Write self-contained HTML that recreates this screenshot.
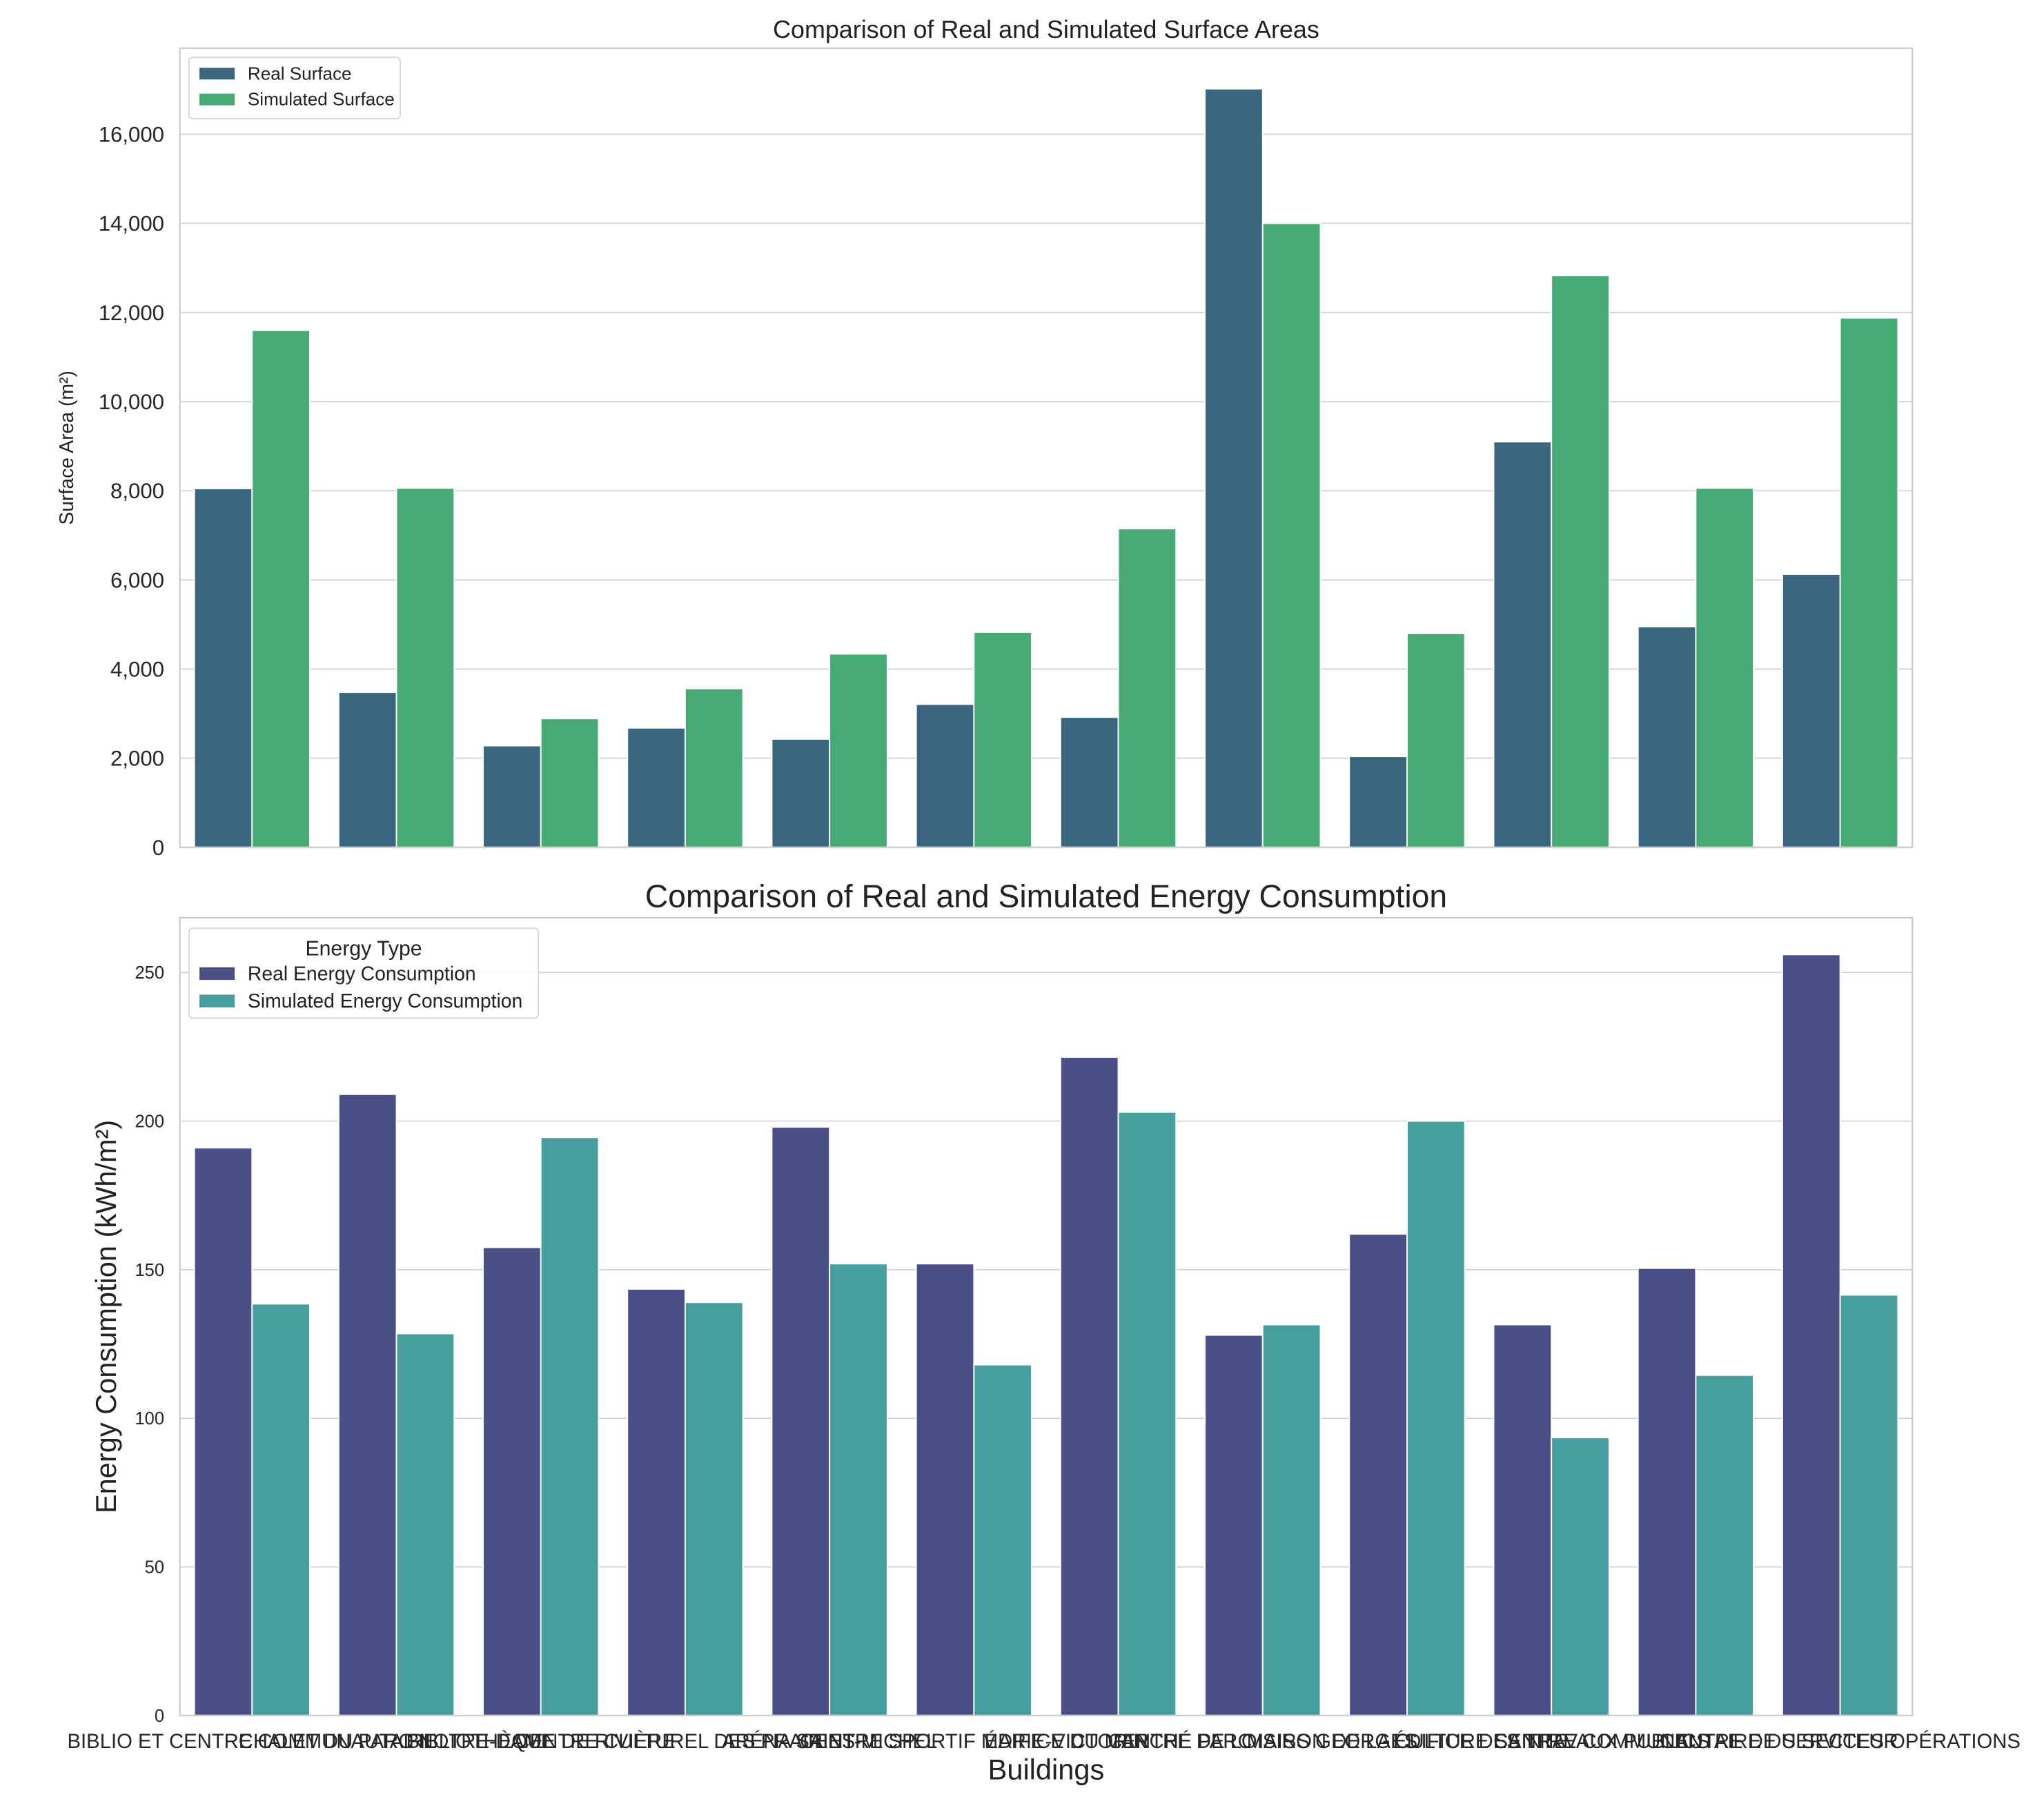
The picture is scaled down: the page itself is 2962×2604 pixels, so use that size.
<!DOCTYPE html>
<html><head><meta charset="utf-8"><style>
html,body{margin:0;padding:0;background:#fff;}
svg{display:block;font-family:"Liberation Sans","DejaVu Sans",sans-serif;}
</style></head><body>
<svg id="chart" width="2962" height="2604" viewBox="0 0 1568 1378.5" preserveAspectRatio="none" xmlns="http://www.w3.org/2000/svg">
<rect width="1568" height="1378.5" fill="#fff"/>
</svg>
<script>
const buildings = ["BIBLIO ET CENTRE COMMUNAUTAIRE","CHALET DU PARC NOTRE-DAME","BIBLIOTHÈQUE DE RIVIÈRE","CENTRE CULTUREL DES PRAIRIES","ARÉNA SAINT-MICHEL","CENTRE SPORTIF MARIE-VICTORIN","ÉDIFICE DU MARCHÉ PARC","CENTRE DE LOISIRS GEORGES","MAISON DE LA CULTURE SAINTE","ÉDIFICE DES TRAVAUX PUBLICS","CENTRE COMMUNAUTAIRE DU SECTEUR","CENTRE DE SERVICES OPÉRATIONS"];
const realSurface = [8050,3480,2280,2680,2430,3210,2920,17020,2040,9100,4950,6130];
const simSurface = [11600,8060,2890,3560,4340,4830,7150,14000,4800,12830,8060,11880];
const realEnergy = [191,209,157.5,143.5,198,152,221.5,128,162,131.5,150.5,256];
const simEnergy = [138.5,128.5,194.5,139,152,118,203,131.5,200,93.5,114.5,141.5];
const surfaceTicks = [0,2000,4000,6000,8000,10000,12000,14000,16000];
const energyTicks = [0,50,100,150,200,250];

const svg = document.getElementById('chart');
const NS = 'http://www.w3.org/2000/svg';
function mk(tag, attrs, parent){const e=document.createElementNS(NS,tag);for(const k in attrs)e.setAttribute(k,attrs[k]);(parent||svg).appendChild(e);return e;}
function txt(s, attrs, parent){const e=mk('text',attrs,parent);e.textContent=s;return e;}

const X0=138, X1=1467, n=buildings.length, gw=(X1-X0)/n, bw=gw*0.4;
function gx(i){return X0+gw*i+gw/2;}

function panel(cfg){
  const g=mk('g',{});
  
  
  const y=v=>cfg.yb-(v/cfg.vmax)*(cfg.yb-cfg.yt);
  cfg.ticks.forEach(t=>{
    const line=mk('line',{x1:X0,x2:X1,y1:y(t),y2:y(t),stroke:'#d4d4d4','stroke-width':1},g);
    
    
    const tl=txt(cfg.fmt(t),{x:X0-12,y:y(t)+cfg.tickFs*0.35,'text-anchor':'end','font-size':cfg.tickFs,fill:'#262626'},g);
    
    
  });
  for(let i=0;i<n;i++){
    const c=gx(i);
    const r=mk('rect',{x:c-bw,y:y(cfg.a[i]),width:bw,height:cfg.yb-y(cfg.a[i]),fill:cfg.ca,stroke:'#fff','stroke-width':1},g);
    
    
    const s=mk('rect',{x:c,y:y(cfg.b[i]),width:bw,height:cfg.yb-y(cfg.b[i]),fill:cfg.cb,stroke:'#fff','stroke-width':1},g);
    
    
  }
  const fr=mk('rect',{x:X0,y:cfg.yt0,width:X1-X0,height:cfg.yb-cfg.yt0,fill:'none',stroke:'#cfcfcf','stroke-width':1.3},g);
  
  
  const t=txt(cfg.title,{x:(X0+X1)/2,y:cfg.yt0-8,'text-anchor':'middle','font-size':cfg.titleFs,fill:'#222'},g);
  
  
  const yl=txt(cfg.ylab,{x:0,y:0,'text-anchor':'middle','font-size':cfg.ylFs,fill:'#222',transform:`translate(${cfg.ylx},${(cfg.yt0+cfg.yb)/2}) rotate(-90)`},g);
  
  
  return g;
}

panel({name:'surface-chart',a:realSurface,b:simSurface,ticks:surfaceTicks,vmax:16000,yb:650,yt:103,yt0:37,
  fmt:v=>v.toLocaleString('en-US'),tickFs:16.5,ca:'#3b6680',cb:'#45aa74',
  title:'Comparison of Real and Simulated Surface Areas',titleFs:19,ylab:'Surface Area (m²)',ylFs:15,ylx:56});
panel({name:'energy-chart',a:realEnergy,b:simEnergy,ticks:energyTicks,vmax:250,yb:1316,yt:746,yt0:704,
  fmt:v=>String(v),tickFs:13.5,ca:'#4a5086',cb:'#479e9e',
  title:'Comparison of Real and Simulated Energy Consumption',titleFs:24.5,ylab:'Energy Consumption (kWh/m²)',ylFs:22,ylx:89});

function legend(name,x,y,w,h,title,items,fs){
  const g=mk('g',{});
  
  
  mk('rect',{x:x,y:y,width:w,height:h,rx:3,fill:'#fff','fill-opacity':0.85,stroke:'#d6d6d6'},g);
  let yy=y+6;
  if(title){const t=txt(title,{x:x+w/2,y:yy+fs,'text-anchor':'middle','font-size':fs+1,fill:'#222'},g);
    
    
    yy+=fs+7;}
  items.forEach(it=>{
    const sw=mk('rect',{x:x+8,y:yy+2,width:27,height:fs*0.65,fill:it[1]},g);
    
    
    const t=txt(it[0],{x:x+45,y:yy+fs*0.8,'font-size':fs,fill:'#222'},g);
    
    
    yy+=fs+6;
  });
}
legend('surface-legend',145,44,162,47,null,[['Real Surface','#3b6680'],['Simulated Surface','#45aa74']],13.8);
legend('energy-legend',145,712,268,69,'Energy Type',[['Real Energy Consumption','#4a5086'],['Simulated Energy Consumption','#479e9e']],15);

buildings.forEach((b,i)=>{
  const t=txt(b,{x:gx(i),y:1341,'text-anchor':'middle','font-size':15.5,fill:'#262626'});
  
  
});
const xt=txt('Buildings',{x:(X0+X1)/2,y:1365,'text-anchor':'middle','font-size':22,fill:'#222'});


</script>
</body></html>
